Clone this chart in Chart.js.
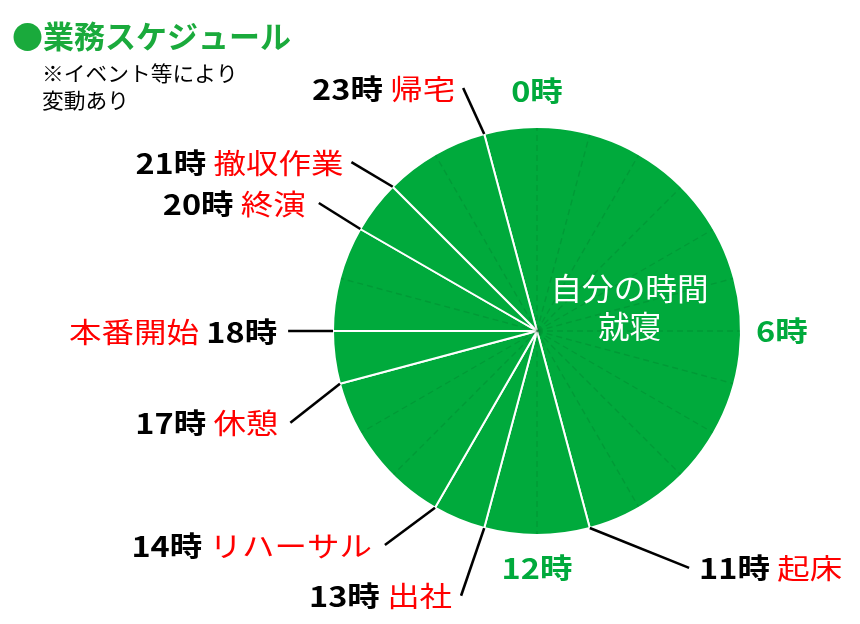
<!DOCTYPE html>
<html lang="ja">
<head>
<meta charset="utf-8">
<script src="https://cdn.jsdelivr.net/npm/chart.js@4.4.1/dist/chart.umd.min.js"></script>
<style>
  html, body { margin: 0; padding: 0; background: #ffffff; }
  canvas { display: block; }
</style>
</head>
<body>
<canvas id="c" width="860" height="624"></canvas>
<script>
// ---- data ----
const segmentNames = ['自分の時間・就寝', '起床', '出社', 'リハーサル', '休憩', '本番開始', '終演', '撤収作業'];
const segmentStartHours = [23, 11, 13, 14, 17, 18, 20, 21];
const segmentHours = [12, 2, 1, 3, 1, 2, 1, 2];
const eventHours = [23, 21, 20, 18, 17, 14, 13, 11];
const eventNames = ['帰宅', '撤収作業', '終演', '本番開始', '休憩', 'リハーサル', '出社', '起床'];
const hourMarks = [0, 6, 12];
const titleText = '●業務スケジュール';
const noteLines = ['※イベント等により', '変動あり'];
const centerLines = ['自分の時間', '就寝'];

// ---- layout / style (kept apart from data) ----
const FONT = '"Noto Sans CJK JP", "Noto Sans", sans-serif';
const GREEN = '#00aa3c';
const TITLE_GREEN = '#1aaa3c';
const RED = '#ff0000';
const LABEL_SIZE = 28;
const LABEL_SX = 1.16;
// leader end: angle (deg clockwise from top), distance as factor of radius, text side and gap
const leaderLayout = {
  23: { angle: 343.1, dist: 1.245, side: 'left', gap: 8 },
  21: { angle: 312.3, dist: 1.23, side: 'left', gap: 8 },
  20: { angle: 300.4, dist: 1.24, side: 'left', gap: 13 },
  18: { angle: 270.0, dist: 1.22, side: 'left', gap: 11, nameFirst: true },
  17: { angle: 249.6, dist: 1.29, side: 'left', gap: 12 },
  14: { angle: 215.4, dist: 1.287, side: 'left', gap: 13 },
  13: { angle: 196.0, dist: 1.35, side: 'left', gap: 9 },
  11: { angle: 147.3, dist: 1.38, side: 'right', gap: 10 }
};
const hourMarkDist = { 0: 1.176, 6: 1.2, 12: 1.162 };

function polar(cx, cy, deg, d) {
  const a = deg * Math.PI / 180;
  return { x: cx + d * Math.sin(a), y: cy - d * Math.cos(a) };
}

function drawRuns(ctx, runs, x, y, align, sx) {
  const widths = runs.map(r => {
    ctx.font = `${r.weight} ${r.size}px ${FONT}`;
    return ctx.measureText(r.text).width;
  });
  const total = widths.reduce((a, b) => a + b, 0) * sx;
  const startX = align === 'right' ? x - total : (align === 'center' ? x - total / 2 : x);
  ctx.save();
  ctx.translate(startX, y);
  ctx.scale(sx, 1);
  ctx.textBaseline = 'middle';
  ctx.textAlign = 'left';
  let px = 0;
  runs.forEach((r, i) => {
    ctx.font = `${r.weight} ${r.size}px ${FONT}`;
    ctx.fillStyle = r.color;
    ctx.fillText(r.text, px, 0);
    px += widths[i];
  });
  ctx.restore();
}

const schedulePlugin = {
  id: 'schedule',
  afterDatasetsDraw(chart) {
    const ctx = chart.ctx;
    const meta = chart.getDatasetMeta(0);
    const arc0 = meta.data[0];
    const cx = arc0.x, cy = arc0.y, r = arc0.outerRadius;

    // faint dashed hour lines (not on segment borders)
    ctx.save();
    ctx.strokeStyle = 'rgba(0, 80, 30, 0.17)';
    ctx.lineWidth = 1.4;
    ctx.setLineDash([6, 4]);
    for (let h = 0; h < 24; h++) {
      if (segmentStartHours.includes(h)) continue;
      const p = polar(cx, cy, h * 15, r - 1);
      ctx.beginPath();
      ctx.moveTo(cx, cy);
      ctx.lineTo(p.x, p.y);
      ctx.stroke();
    }
    ctx.restore();

    // leader lines + event labels
    eventHours.forEach((h, i) => {
      const lay = leaderLayout[h];
      const seg = segmentStartHours.indexOf(h);
      const arc = meta.data[seg];
      const sa = arc.startAngle;
      const start = { x: cx + r * Math.cos(sa), y: cy + r * Math.sin(sa) };
      const end = polar(cx, cy, lay.angle, r * lay.dist);
      ctx.save();
      ctx.strokeStyle = '#000000';
      ctx.lineWidth = 2.6;
      ctx.beginPath();
      ctx.moveTo(start.x, start.y);
      ctx.lineTo(end.x, end.y);
      ctx.stroke();
      ctx.restore();

      const hourRun = { text: h + '時', color: '#000000', weight: 700, size: LABEL_SIZE };
      const runs = lay.nameFirst
        ? [{ text: eventNames[i] + ' ', color: RED, weight: 400, size: LABEL_SIZE }, hourRun]
        : [hourRun, { text: ' ' + eventNames[i], color: RED, weight: 400, size: LABEL_SIZE }];
      if (lay.side === 'left') {
        drawRuns(ctx, runs, end.x - lay.gap, end.y + 1, 'right', LABEL_SX);
      } else {
        drawRuns(ctx, runs, end.x + lay.gap, end.y, 'left', LABEL_SX);
      }
    });

    // green hour marks
    hourMarks.forEach(h => {
      const p = polar(cx, cy, h * 15, r * hourMarkDist[h]);
      drawRuns(ctx, [{ text: h + '時', color: GREEN, weight: 700, size: LABEL_SIZE }], p.x, p.y, 'center', LABEL_SX);
    });

    // center text of the large segment
    const cp = arc0.getCenterPoint();
    drawRuns(ctx, [{ text: centerLines[0], color: '#ffffff', weight: 400, size: 31 }], cp.x - 6, cp.y - 16, 'center', 1.02);
    drawRuns(ctx, [{ text: centerLines[1], color: '#ffffff', weight: 400, size: 31 }], cp.x - 6, cp.y + 22, 'center', 1.02);

    // title + note
    drawRuns(ctx, [{ text: titleText, color: TITLE_GREEN, weight: 700, size: 31 }], 12, 36, 'left', 1.0);
    drawRuns(ctx, [{ text: noteLines[0], color: '#000000', weight: 400, size: 21 }], 42, 73, 'left', 1.035);
    drawRuns(ctx, [{ text: noteLines[1], color: '#000000', weight: 400, size: 21 }], 42, 100, 'left', 1.035);
  }
};

new Chart(document.getElementById('c'), {
  type: 'pie',
  data: {
    labels: segmentNames,
    datasets: [{
      data: segmentHours,
      backgroundColor: GREEN,
      borderColor: '#ffffff',
      borderWidth: 2
    }]
  },
  options: {
    responsive: false,
    animation: false,
    rotation: segmentStartHours[0] * 15,
    radius: 204,
    layout: { padding: { left: 333, right: 119, top: 127, bottom: 89 } },
    plugins: {
      legend: { display: false },
      tooltip: { enabled: false }
    }
  },
  plugins: [schedulePlugin]
});
</script>
</body>
</html>
